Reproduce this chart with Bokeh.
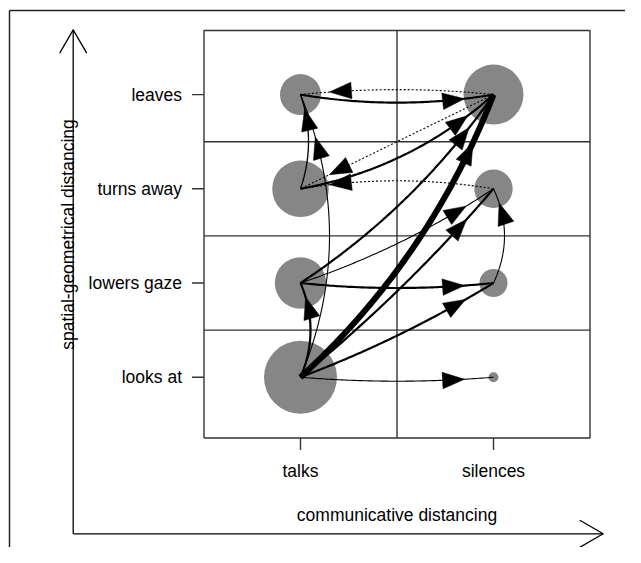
import numpy as np
from bokeh.plotting import figure
from bokeh.models import Range1d
from bokeh.core.properties import value
from bokeh.embed import file_html
from bokeh.resources import INLINE

# ---------------- data ----------------
x_categories = ["talks", "silences"]
y_categories = ["looks at", "lowers gaze", "turns away", "leaves"]
x_title = "communicative distancing"
y_title = "spatial-geometrical distancing"

node_x = ["talks", "talks", "talks", "talks", "silences", "silences", "silences", "silences"]
node_y = ["looks at", "lowers gaze", "turns away", "leaves", "looks at", "lowers gaze", "turns away", "leaves"]
node_weight = [36.5, 25.7, 28.3, 20.5, 5.0, 14.0, 19.2, 30.0]

edge_from_x = ["talks", "talks", "talks", "talks", "talks", "talks", "talks", "talks", "talks",
               "talks", "talks", "silences", "silences", "silences", "silences", "talks"]
edge_from_y = ["looks at", "looks at", "looks at", "looks at", "looks at", "looks at",
               "lowers gaze", "lowers gaze", "lowers gaze", "turns away", "leaves",
               "leaves", "leaves", "turns away", "lowers gaze", "turns away"]
edge_to_x = ["silences", "talks", "talks", "silences", "silences", "silences",
             "silences", "silences", "silences", "silences", "silences",
             "talks", "talks", "talks", "silences", "talks"]
edge_to_y = ["looks at", "lowers gaze", "leaves", "lowers gaze", "turns away", "leaves",
             "lowers gaze", "turns away", "leaves", "leaves", "leaves",
             "leaves", "turns away", "turns away", "turns away", "leaves"]
edge_weight = [1, 2, 1, 2, 2, 5.5, 2, 1, 2, 2, 2, 1, 1, 1, 1, 1.2]
edge_kind = ["solid", "solid", "solid", "solid", "solid", "solid", "solid", "solid", "solid",
             "solid", "solid", "dotted", "dotted", "dotted", "solid", "solid"]

# ---------------- style (curvature of each edge, px at midpoint) ----------------
edge_bend = [4, 10, 29, 5, 6, 20, 5, 7, 13, 15, 8, 5, 0, 8, 11, 8]

# ---------------- layout ----------------
W, H = 625, 547
SX, SY = 193.0, 94.2          # px per category unit
X1_SCREEN, Y1_SCREEN = 300.0, 376.7   # canvas position of (1, 1)

x_start = 1 + (0 - X1_SCREEN) / SX
x_end = 1 + (W - X1_SCREEN) / SX
y_end = 1 + (Y1_SCREEN - 0) / SY
y_start = 1 + (Y1_SCREEN - H) / SY


def sx(px):   # canvas px -> data x
    return 1 + (px - X1_SCREEN) / SX


def sy(py):   # canvas px (top-down) -> data y
    return 1 + (Y1_SCREEN - py) / SY


p = figure(width=W, height=H, x_range=Range1d(x_start, x_end), y_range=Range1d(y_start, y_end),
           output_backend="svg", toolbar_location=None, min_border=0,
           x_axis_location=None, y_axis_location=None)
p.grid.visible = False
p.outline_line_color = None
p.background_fill_color = "white"
p.border_fill_color = "white"

FONT = "Liberation Sans"
FS = "17.5px"

# page frame (left and top)
p.line([sx(9), sx(9)], [sy(10), sy(H)], line_color="#222222", line_width=1.5)
p.line([sx(9), sx(W)], [sy(10), sy(10)], line_color="#222222", line_width=1.5)

# inner box
bx0, bx1 = 0.5, len(x_categories) + 0.5
by0, by1 = 0.355, 4.68
p.line([bx0, bx1, bx1, bx0, bx0], [by0, by0, by1, by1, by0], line_color="#333333", line_width=1.4)
for k in range(1, len(x_categories)):
    p.line([k + 0.5, k + 0.5], [by0, by1], line_color="#333333", line_width=1.4)
for k in range(1, len(y_categories)):
    p.line([bx0, bx1], [k + 0.5, k + 0.5], line_color="#333333", line_width=1.4)

# ticks and tick labels
tick_len = 12
yt = np.arange(1, len(y_categories) + 1)
xt = np.arange(1, len(x_categories) + 1)
p.segment(x0=[bx0 - tick_len / SX] * len(yt), y0=yt, x1=[bx0] * len(yt), y1=yt,
          line_color="#333333", line_width=1.4)
p.segment(x0=xt, y0=[by0] * len(xt), x1=xt, y1=[by0 - tick_len / SY] * len(xt),
          line_color="#333333", line_width=1.4)
p.text(x=[bx0 - 22 / SX] * len(yt), y=yt, text=y_categories, text_align="right",
       text_baseline="middle", text_font=value(FONT), text_font_size=FS, text_color="black")
p.text(x=xt, y=[sy(470)] * len(xt), text=x_categories, text_align="center",
       text_baseline="middle", text_font=value(FONT), text_font_size=FS, text_color="black")

# axis titles
p.text(x=[(bx0 + bx1) / 2], y=[sy(514)], text=[x_title], text_align="center",
       text_baseline="middle", text_font=value(FONT), text_font_size=FS, text_color="black")
p.text(x=[sx(67.5)], y=[sy(234)], text=[y_title], angle=np.pi / 2, text_align="center",
       text_baseline="middle", text_font=value(FONT), text_font_size=FS, text_color="black")

# outer L-shaped axis arrows
ox, oy = 72.7, 533.3
top_y, right_x = 29.3, 602.7
p.line([sx(ox), sx(ox)], [sy(oy), sy(top_y)], line_color="black", line_width=1.3)
p.line([sx(ox), sx(right_x)], [sy(oy), sy(oy)], line_color="black", line_width=1.3)
bl, ang = 27, np.deg2rad(30)
p.line([sx(ox - bl * np.sin(ang)), sx(ox), sx(ox + bl * np.sin(ang))],
       [sy(top_y + bl * np.cos(ang)), sy(top_y), sy(top_y + bl * np.cos(ang))],
       line_color="black", line_width=1.3)
p.line([sx(right_x - bl * np.cos(ang)), sx(right_x), sx(right_x - bl * np.cos(ang))],
       [sy(oy - bl * np.sin(ang)), sy(oy), sy(oy + bl * np.sin(ang))],
       line_color="black", line_width=1.3)

# nodes
nxv = [x_categories.index(v) + 1 for v in node_x]
nyv = [y_categories.index(v) + 1 for v in node_y]
p.scatter(x=nxv, y=nyv, size=[2 * w for w in node_weight], marker="circle",
          fill_color="#868686", line_color=None)

# edges
head_len, head_w, t_tip = 22.0, 16.5, 0.85
xs_s, ys_s, xs_d, ys_d, w_s, w_d = [], [], [], [], [], []
hx, hy = [], []
for fx, fy, tx, ty, wgt, kind, bend in zip(edge_from_x, edge_from_y, edge_to_x, edge_to_y,
                                         edge_weight, edge_kind, edge_bend):
    p0 = np.array([(x_categories.index(fx)) * SX, (y_categories.index(fy)) * SY])
    p2 = np.array([(x_categories.index(tx)) * SX, (y_categories.index(ty)) * SY])
    d = p2 - p0
    L = np.hypot(*d)
    nrm = np.array([d[1], -d[0]]) / L
    c = (p0 + p2) / 2 + nrm * 2 * bend
    t = np.linspace(0, 1, 80)[:, None]
    pts = (1 - t) ** 2 * p0 + 2 * (1 - t) * t * c + t ** 2 * p2
    X = list(1 + pts[:, 0] / SX)
    Y = list(1 + pts[:, 1] / SY)
    lw = 1.1 * wgt
    if kind == "dotted":
        xs_d.append(X); ys_d.append(Y); w_d.append(lw)
    else:
        xs_s.append(X); ys_s.append(Y); w_s.append(lw)
    tip = (1 - t_tip) ** 2 * p0 + 2 * (1 - t_tip) * t_tip * c + t_tip ** 2 * p2
    tan = 2 * (1 - t_tip) * (c - p0) + 2 * t_tip * (p2 - c)
    u = tan / np.hypot(*tan)
    perp = np.array([-u[1], u[0]])
    base = tip - u * head_len
    tri = [tip, base + perp * head_w / 2, base - perp * head_w / 2]
    hx.append([1 + q[0] / SX for q in tri])
    hy.append([1 + q[1] / SY for q in tri])

p.multi_line(xs=xs_s, ys=ys_s, line_width=w_s, line_color="black")
p.multi_line(xs=xs_d, ys=ys_d, line_width=w_d, line_color="black", line_dash="2 2")
p.patches(xs=hx, ys=hy, fill_color="black", line_color="black", line_width=0.5)

open("out.html", "w").write(file_html(p, INLINE))
